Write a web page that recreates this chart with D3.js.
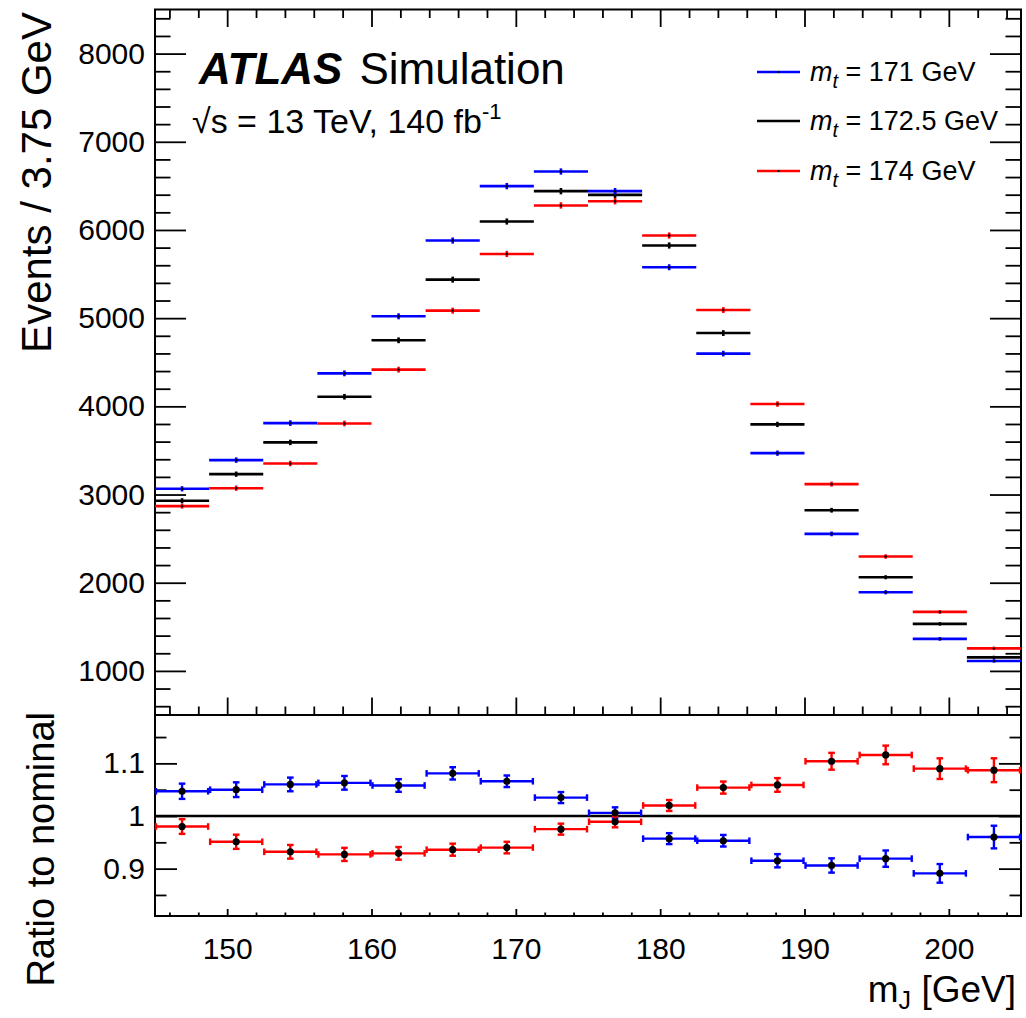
<!DOCTYPE html>
<html>
<head>
<meta charset="utf-8">
<script src="https://cdn.jsdelivr.net/npm/d3@7"></script>
<style>
  body { margin: 0; background: #fff; }
  svg { display: block; }
  text { font-family: "Liberation Sans", Arial, Helvetica, sans-serif; fill: #000; }
</style>
</head>
<body>
<script>
// bin edges of m_J [GeV], 3.75 GeV wide
const binLow  = [145, 148.75, 152.5, 156.25, 160, 163.75, 167.5, 171.25, 175, 178.75, 182.5, 186.25, 190, 193.75, 197.5, 201.25];
const binHigh = [148.75, 152.5, 156.25, 160, 163.75, 167.5, 171.25, 175, 178.75, 182.5, 186.25, 190, 193.75, 197.5, 201.25, 205];

// events per bin
const events171  = [3065, 3390, 3810, 4374, 5021, 5880, 6497, 6663, 6440, 5577, 4598, 3469, 2554, 1892, 1363, 1113];
const events1725 = [2929, 3231, 3591, 4109, 4749, 5437, 6096, 6440, 6398, 5824, 4831, 3795, 2822, 2062, 1533, 1154];
const events174  = [2868, 3072, 3352, 3806, 4416, 5085, 5728, 6278, 6326, 5937, 5092, 4026, 3118, 2297, 1669, 1256];
const err171  = [30, 31, 32, 33, 34, 35, 36, 36, 36, 34, 32, 30, 27, 24, 21, 19];
const err1725 = [29, 30, 31, 32, 33, 34, 35, 36, 36, 35, 33, 30, 27, 23, 20, 18];
const err174  = [28, 30, 31, 32, 33, 34, 35, 36, 36, 35, 33, 31, 28, 25, 22, 20];

// ratio to nominal
const ratio171 = [1.047, 1.050, 1.060, 1.063, 1.058, 1.081, 1.066, 1.035, 1.006, 0.957, 0.953, 0.915, 0.906, 0.919, 0.891, 0.960];
const ratio174 = [0.980, 0.951, 0.932, 0.927, 0.929, 0.936, 0.940, 0.975, 0.989, 1.020, 1.054, 1.059, 1.104, 1.116, 1.090, 1.087];
const rerr171  = [0.0145, 0.014, 0.013, 0.013, 0.012, 0.0117, 0.011, 0.0105, 0.0105, 0.0104, 0.011, 0.0126, 0.0136, 0.0155, 0.0177, 0.0215];
const rerr174  = [0.014, 0.0135, 0.013, 0.0125, 0.012, 0.0115, 0.011, 0.0105, 0.0105, 0.0104, 0.0115, 0.013, 0.016, 0.0177, 0.0196, 0.0227];

const xTicks = [150, 160, 170, 180, 190, 200];
const yTicksTop = [1000, 2000, 3000, 4000, 5000, 6000, 7000, 8000];
const yTicksRatio = [0.9, 1, 1.1];
const legendLabels = ["171 GeV", "172.5 GeV", "174 GeV"];

const W = 1026, H = 1018;
const L = 155, R = 1021, T = 9.5, MID = 715, B = 916;

const svg = d3.select("body").append("svg").attr("width", W).attr("height", H);

const x = d3.scaleLinear().domain([145, 205]).range([L, R]);
const yTop = d3.scaleLinear().domain([500, 8500]).range([MID, T]);
const yRat = d3.scaleLinear().domain([0.81, 1.19]).range([B, MID + 1]);

const minorX = d3.range(146, 205, 2);
const minorYTop = d3.range(600, 8500, 200);
const minorYRat = [0.85, 0.95, 1.05, 1.15];

function drawAxis(axis, tx, ty, labels) {
  const g = svg.append("g").attr("transform", `translate(${tx},${ty})`).call(axis);
  g.select(".domain").remove();
  g.selectAll(".tick line").attr("stroke", "#000").attr("stroke-width", 1.8);
  g.selectAll("text").attr("font-size", 30).attr("font-family", null);
  if (!labels) g.selectAll("text").remove();
  return g;
}

// top panel axes
drawAxis(d3.axisLeft(yTop).tickValues(yTicksTop).tickSizeInner(-31).tickSizeOuter(0).tickPadding(10).tickFormat(d3.format("d")), L, 0, true);
drawAxis(d3.axisLeft(yTop).tickValues(minorYTop.filter(v => v % 1000)).tickSizeInner(-15.5).tickSizeOuter(0), L, 0, false);
drawAxis(d3.axisRight(yTop).tickValues(yTicksTop).tickSizeInner(-31).tickSizeOuter(0), R, 0, false);
drawAxis(d3.axisRight(yTop).tickValues(minorYTop.filter(v => v % 1000)).tickSizeInner(-15.5).tickSizeOuter(0), R, 0, false);
drawAxis(d3.axisTop(x).tickValues(xTicks).tickSizeInner(-17.5).tickSizeOuter(0), 0, T, false);
drawAxis(d3.axisTop(x).tickValues(minorX.filter(v => v % 10)).tickSizeInner(-8.5).tickSizeOuter(0), 0, T, false);
drawAxis(d3.axisBottom(x).tickValues(xTicks).tickSizeInner(-17.5).tickSizeOuter(0), 0, MID, false);
drawAxis(d3.axisBottom(x).tickValues(minorX.filter(v => v % 10)).tickSizeInner(-8.5).tickSizeOuter(0), 0, MID, false);

// ratio panel axes
drawAxis(d3.axisLeft(yRat).tickValues(yTicksRatio).tickSizeInner(-22).tickSizeOuter(0).tickPadding(10).tickFormat(d => d === 1 ? "1" : d3.format(".1f")(d)), L, 0, true);
drawAxis(d3.axisLeft(yRat).tickValues(minorYRat).tickSizeInner(-11.5).tickSizeOuter(0), L, 0, false);
drawAxis(d3.axisRight(yRat).tickValues(yTicksRatio).tickSizeInner(-22).tickSizeOuter(0), R, 0, false);
drawAxis(d3.axisRight(yRat).tickValues(minorYRat).tickSizeInner(-11.5).tickSizeOuter(0), R, 0, false);
drawAxis(d3.axisBottom(x).tickValues(xTicks).tickSizeInner(-7).tickSizeOuter(0).tickPadding(22), 0, B, true);
drawAxis(d3.axisBottom(x).tickValues(minorX.filter(v => v % 10)).tickSizeInner(-3.5).tickSizeOuter(0), 0, B, false);

// frames
svg.append("rect").attr("x", L).attr("y", T).attr("width", R - L).attr("height", MID - T)
  .attr("fill", "none").attr("stroke", "#000").attr("stroke-width", 2);
svg.append("rect").attr("x", L).attr("y", MID).attr("width", R - L).attr("height", B - MID)
  .attr("fill", "none").attr("stroke", "#000").attr("stroke-width", 2);

// top panel histograms
const topSeries = [
  { vals: events1725, errs: err1725, color: "#000000" },
  { vals: events171,  errs: err171,  color: "#0000ff" },
  { vals: events174,  errs: err174,  color: "#ff0000" }
];
topSeries.forEach(s => {
  const g = svg.append("g");
  s.vals.forEach((v, i) => {
    const cx = x((binLow[i] + binHigh[i]) / 2);
    g.append("line").attr("x1", x(binLow[i])).attr("x2", x(binHigh[i]))
      .attr("y1", yTop(v)).attr("y2", yTop(v)).attr("stroke", s.color).attr("stroke-width", 2.6);
    g.append("line").attr("x1", cx).attr("x2", cx)
      .attr("y1", yTop(v - s.errs[i])).attr("y2", yTop(v + s.errs[i])).attr("stroke", s.color).attr("stroke-width", 2.6);
    g.append("circle").attr("cx", cx).attr("cy", yTop(v)).attr("r", 1.2).attr("fill", "#000");
  });
});

// ratio panel
svg.append("line").attr("x1", L).attr("x2", R).attr("y1", yRat(1)).attr("y2", yRat(1))
  .attr("stroke", "#000").attr("stroke-width", 2.6);

const ratioSeries = [
  { vals: ratio171, errs: rerr171, color: "#0000ff" },
  { vals: ratio174, errs: rerr174, color: "#ff0000" }
];
const cap = 3.3;
ratioSeries.forEach(s => {
  const g = svg.append("g").attr("stroke", s.color).attr("stroke-width", 2.4);
  s.vals.forEach((v, i) => {
    const x0 = x(binLow[i]), x1 = x(binHigh[i]), cx = x((binLow[i] + binHigh[i]) / 2);
    const yv = yRat(v), ylo = yRat(v - s.errs[i]), yhi = yRat(v + s.errs[i]);
    g.append("line").attr("x1", x0 + 1).attr("x2", x1 - 1).attr("y1", yv).attr("y2", yv);
    g.append("line").attr("x1", x0 + 1).attr("x2", x0 + 1).attr("y1", yv - cap).attr("y2", yv + cap);
    g.append("line").attr("x1", x1 - 1).attr("x2", x1 - 1).attr("y1", yv - cap).attr("y2", yv + cap);
    g.append("line").attr("x1", cx).attr("x2", cx).attr("y1", ylo).attr("y2", yhi);
    g.append("line").attr("x1", cx - cap).attr("x2", cx + cap).attr("y1", ylo).attr("y2", ylo);
    g.append("line").attr("x1", cx - cap).attr("x2", cx + cap).attr("y1", yhi).attr("y2", yhi);
  });
});
ratioSeries.forEach(s => {
  s.vals.forEach((v, i) => {
    svg.append("circle").attr("cx", x((binLow[i] + binHigh[i]) / 2)).attr("cy", yRat(v))
      .attr("r", 3.6).attr("fill", "#000");
  });
});

// legend
const legColors = ["#0000ff", "#000000", "#ff0000"];
const legY = [72, 121, 171];
legendLabels.forEach((lab, i) => {
  svg.append("line").attr("x1", 757).attr("x2", 800).attr("y1", legY[i]).attr("y2", legY[i])
    .attr("stroke", legColors[i]).attr("stroke-width", 2.6);
  svg.append("circle").attr("cx", 778.5).attr("cy", legY[i]).attr("r", 1).attr("fill", "#000");
  const t = svg.append("text").attr("x", 810).attr("y", legY[i] + 9).attr("font-size", 27);
  t.append("tspan").attr("font-style", "italic").text("m");
  t.append("tspan").attr("font-style", "italic").attr("font-size", 20).attr("dy", 7).text("t");
  t.append("tspan").attr("dy", -7).text(" = " + lab);
});

// ATLAS label
const atl = svg.append("text").attr("x", 199).attr("y", 84).attr("font-size", 44);
atl.append("tspan").attr("font-weight", "bold").attr("font-style", "italic").text("ATLAS");
atl.append("tspan").attr("dx", 17).text("Simulation");

const lumi = svg.append("text").attr("x", 192).attr("y", 133).attr("font-size", 34);
lumi.append("tspan").text("\u221As = 13 TeV, 140 fb");
lumi.append("tspan").attr("font-size", 22).attr("dy", -14).text("-1");

// axis titles
svg.append("text").attr("transform", "translate(51,12) rotate(-90)").attr("text-anchor", "end")
  .attr("font-size", 42).text("Events / 3.75 GeV");
svg.append("text").attr("transform", "translate(54,712) rotate(-90)").attr("text-anchor", "end")
  .attr("font-size", 38).text("Ratio to nominal");

const xt = svg.append("text").attr("x", 1016).attr("y", 1002).attr("text-anchor", "end").attr("font-size", 37);
xt.append("tspan").text("m");
xt.append("tspan").attr("font-size", 25).attr("dy", 7).text("J");
xt.append("tspan").attr("dy", -7).text(" [GeV]");
</script>
</body>
</html>
